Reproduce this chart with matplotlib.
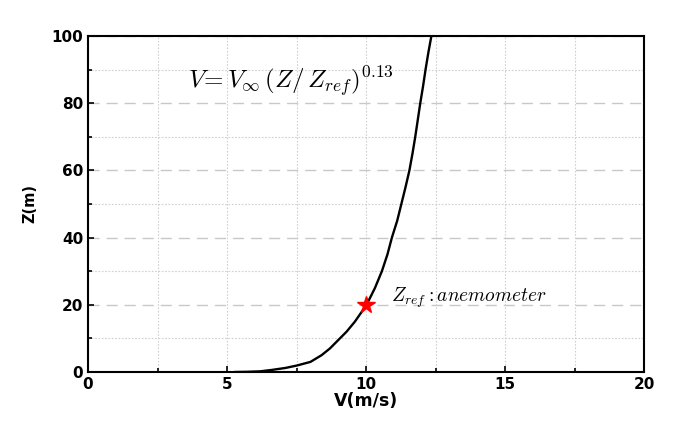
import matplotlib
matplotlib.use("Agg")
import matplotlib.pyplot as plt
from matplotlib.ticker import MultipleLocator

# Data
V_curve = [5.3, 5.7, 6.2, 6.6, 7.1, 7.5, 8.0, 8.4, 8.7, 9.0, 9.3, 9.6, 10.02, 10.32,
           10.57, 10.77, 10.93, 11.12, 11.27, 11.42, 11.56, 11.67, 11.77, 11.86,
           11.95, 12.05, 12.14, 12.24, 12.35]
Z_curve = [0.0, 0.05, 0.2, 0.6, 1.2, 1.9, 3.0, 5.0, 7.0, 9.5, 12.0, 15.0, 20.0, 25.0,
           30.0, 35.0, 40.0, 45.0, 50.0, 55.0, 60.0, 65.0, 70.0, 75.0,
           80.0, 85.0, 90.0, 95.0, 100.0]
V_ref = [10.0]
Z_ref = [20.0]

plt.rcParams['mathtext.fontset'] = 'cm'

fig = plt.figure(figsize=(6.73, 4.23), dpi=100)
ax = fig.add_axes([0.1308, 0.1206, 0.8262, 0.7943])

ax.plot(V_curve, Z_curve, color='black', lw=1.7, zorder=3)
ax.plot(V_ref, Z_ref, marker='*', color='red', markersize=13, ls='none', zorder=4)

ax.set_xlim(0, 20)
ax.set_ylim(0, 100)
ax.xaxis.set_major_locator(MultipleLocator(5))
ax.xaxis.set_minor_locator(MultipleLocator(2.5))
ax.yaxis.set_major_locator(MultipleLocator(20))
ax.yaxis.set_minor_locator(MultipleLocator(10))

ax.grid(True, which='major', axis='y', color='#c8c8c8', ls=(0, (8, 5)), lw=1.0)
ax.grid(True, which='minor', axis='y', color='#d0d0d0', ls=(0, (1.5, 1.5)), lw=0.8)
ax.grid(True, which='both', axis='x', color='#d0d0d0', ls=(0, (1.5, 1.5)), lw=0.8)

ax.tick_params(which='both', direction='in', top=False, right=False, width=1.2)
ax.tick_params(which='major', length=4)
ax.tick_params(which='minor', length=3)
for lab in ax.get_xticklabels() + ax.get_yticklabels():
    lab.set_fontweight('bold')
    lab.set_fontsize(11)
for sp in ax.spines.values():
    sp.set_linewidth(1.5)

ax.set_xlabel('V(m/s)', fontsize=12.5, fontweight='bold', labelpad=0)
ax.set_ylabel('Z(m)', fontsize=10.5, fontweight='bold', labelpad=10)

ax.text(3.6, 86.5, r'$V\!=V_{\infty}\,(Z/\,Z_{ref})^{0.13}$', fontsize=18,
        va='center', ha='left')
ax.text(10.9, 22.0, r'$Z_{ref}: anemometer$', fontsize=14, va='center', ha='left')

fig.savefig('out.png', dpi=100)
